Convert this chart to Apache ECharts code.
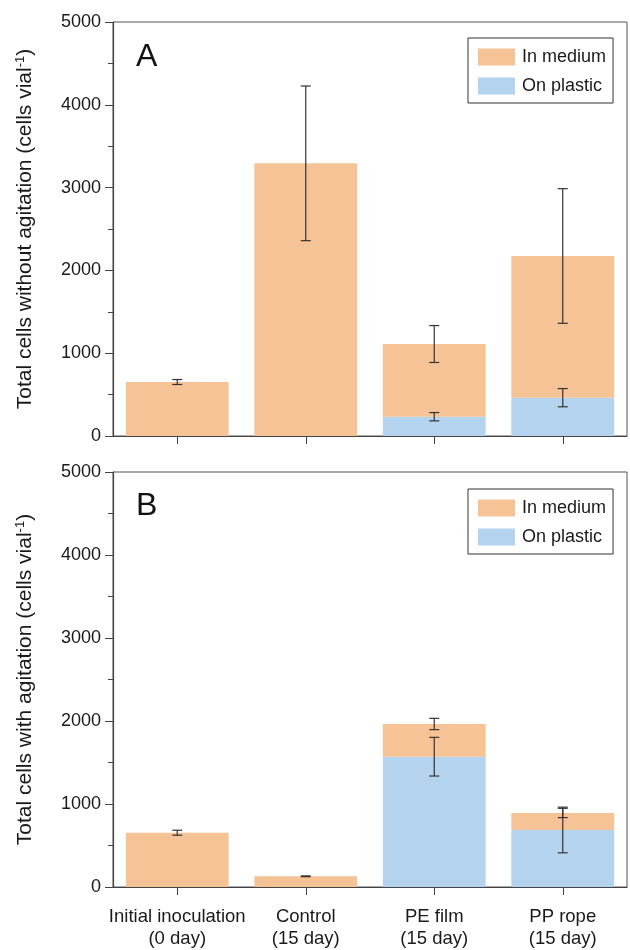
<!DOCTYPE html>
<html><head><meta charset="utf-8">
<script src="https://cdn.jsdelivr.net/npm/echarts@6/dist/echarts.min.js"></script>
<style>html,body{margin:0;padding:0;background:#fff}#c{width:630px;height:950px}</style>
</head><body><div id="c"></div>
<script>
const categories = ["Initial inoculation\n(0 day)", "Control\n(15 day)", "PE film\n(15 day)", "PP rope\n(15 day)"];
const yTicks = [0, 1000, 2000, 3000, 4000, 5000];
// Panel A: without agitation
const plasticA = [0, 0, 233, 463];
const mediumA = [652, 3293, 878, 1711];
const mediumErrA = [30, 934, 223, 813];
const plasticErrA = [0, 0, 50, 110];
// Panel B: with agitation
const plasticB = [0, 0, 1570, 687];
const mediumB = [654, 129, 394, 205];
const mediumErrB = [30, 5, 68, 56];
const plasticErrB = [0, 0, 233, 275];

const FONT = 'Liberation Sans, Arial, sans-serif';
const ORANGE = '#F5C396';
const BLUE = '#B3D3EE';

function errData(plastic, medium, medErr, plaErr) {
  const out = [];
  for (let i = 0; i < categories.length; i++) {
    out.push([i, plastic[i] + medium[i], medErr[i]]);
    if (plaErr[i] > 0) out.push([i, plastic[i], plaErr[i]]);
  }
  return out;
}
function renderErr(params, api) {
  const i = api.value(0), c = api.value(1), e = api.value(2);
  const hi = api.coord([i, c + e]);
  const lo = api.coord([i, c - e]);
  const w = 5;
  const st = { stroke: '#333', lineWidth: 1.2 };
  return { type: 'group', children: [
    { type: 'line', shape: { x1: hi[0], y1: hi[1], x2: lo[0], y2: lo[1] }, style: st },
    { type: 'line', shape: { x1: hi[0] - w, y1: hi[1], x2: hi[0] + w, y2: hi[1] }, style: st },
    { type: 'line', shape: { x1: lo[0] - w, y1: lo[1], x2: lo[0] + w, y2: lo[1] }, style: st }
  ]};
}
function yAxis(idx, title) {
  return {
    type: 'value', gridIndex: idx, min: 0, max: 5000, interval: 1000,
    axisLine: { show: true, lineStyle: { color: '#444', width: 1.2 } },
    axisTick: { show: true, length: 8, lineStyle: { color: '#444' } },
    minorTick: { show: true, splitNumber: 2, length: 5, lineStyle: { color: '#444' } },
    splitLine: { show: false },
    axisLabel: { fontFamily: FONT, fontSize: 18, color: '#1a1a1a', margin: 12,
      formatter: v => yTicks.includes(v) ? String(v) : '' },
    name: title, nameLocation: 'middle', nameGap: 76, nameRotate: 90,
    nameTextStyle: { fontFamily: FONT, fontSize: 21, color: '#1a1a1a',
      rich: { sup: { fontFamily: FONT, fontSize: 13, verticalAlign: 'top', padding: [0, 0, 10, 0], color: '#1a1a1a' } } }
  };
}
function xAxis(idx, showLabel) {
  return {
    type: 'category', gridIndex: idx, data: categories,
    axisLine: { show: true, lineStyle: { color: '#444', width: 1.2 } },
    axisTick: { show: true, alignWithLabel: true, interval: 0, length: 8, lineStyle: { color: '#444' } },
    axisLabel: { show: showLabel, interval: 0, fontFamily: FONT, fontSize: 18.5, color: '#1a1a1a', lineHeight: 22, margin: 19 }
  };
}
function legend(top) {
  return {
    data: ['In medium', 'On plastic'], orient: 'vertical', left: 468, top: top,
    itemWidth: 37, itemHeight: 17, itemGap: 11, icon: 'rect',
    borderColor: '#333', borderWidth: 1, padding: [10, 7, 8, 10],
    textStyle: { fontFamily: FONT, fontSize: 18, color: '#1a1a1a', padding: [0, 0, 0, 2] }
  };
}
const chart = echarts.init(document.getElementById('c'));
chart.setOption({
  animation: false,
  backgroundColor: '#fff',
  grid: [
    { left: 113, right: 3, top: 22, height: 414, show: true, borderColor: '#555', borderWidth: 1, backgroundColor: 'transparent', outerBoundsMode: 'none', containLabel: false },
    { left: 113, right: 3, top: 472, height: 415, show: true, borderColor: '#555', borderWidth: 1, backgroundColor: 'transparent', outerBoundsMode: 'none', containLabel: false }
  ],
  title: [
    { text: 'A', left: 131, top: 36, textStyle: { fontFamily: FONT, fontSize: 32, fontWeight: 'normal', color: '#111' } },
    { text: 'B', left: 131, top: 485, textStyle: { fontFamily: FONT, fontSize: 32, fontWeight: 'normal', color: '#111' } }
  ],
  legend: [legend(38), legend(489)],
  xAxis: [xAxis(0, false), xAxis(1, true)],
  yAxis: [
    yAxis(0, 'Total cells without agitation (cells vial{sup|-1})'),
    yAxis(1, 'Total cells with agitation (cells vial{sup|-1})')
  ],
  series: [
    { name: 'On plastic', type: 'bar', stack: 'a', xAxisIndex: 0, yAxisIndex: 0, data: plasticA, barCategoryGap: '20%', itemStyle: { color: BLUE } },
    { name: 'In medium', type: 'bar', stack: 'a', xAxisIndex: 0, yAxisIndex: 0, data: mediumA, barCategoryGap: '20%', itemStyle: { color: ORANGE } },
    { name: 'On plastic', type: 'bar', stack: 'b', xAxisIndex: 1, yAxisIndex: 1, data: plasticB, barCategoryGap: '20%', itemStyle: { color: BLUE } },
    { name: 'In medium', type: 'bar', stack: 'b', xAxisIndex: 1, yAxisIndex: 1, data: mediumB, barCategoryGap: '20%', itemStyle: { color: ORANGE } },
    { type: 'custom', xAxisIndex: 0, yAxisIndex: 0, renderItem: renderErr, data: errData(plasticA, mediumA, mediumErrA, plasticErrA), z: 10 },
    { type: 'custom', xAxisIndex: 1, yAxisIndex: 1, renderItem: renderErr, data: errData(plasticB, mediumB, mediumErrB, plasticErrB), z: 10 }
  ]
});
</script></body></html>
